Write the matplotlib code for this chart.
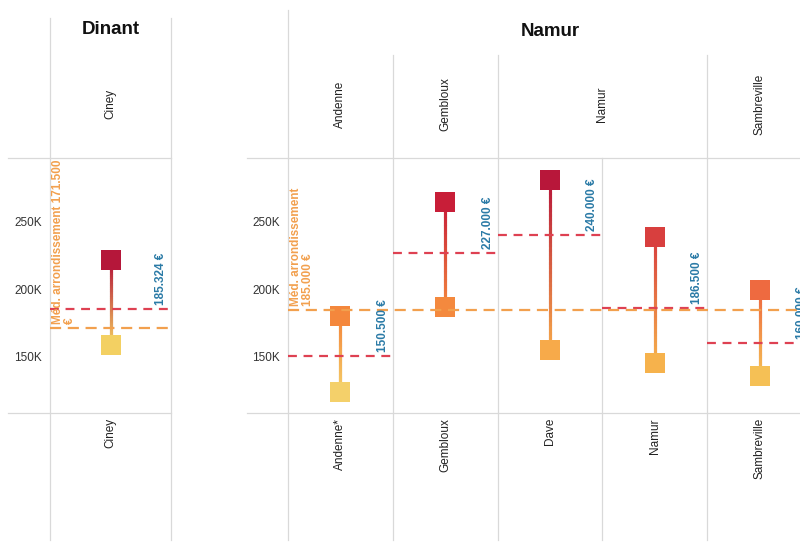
import matplotlib
matplotlib.use("Agg")
import matplotlib.pyplot as plt
import numpy as np
import matplotlib.transforms as mtransforms
from matplotlib.collections import LineCollection
from matplotlib.lines import Line2D
from matplotlib.colors import to_rgb

plt.rcParams['font.family'] = ['Liberation Sans', 'DejaVu Sans']

# ---------------- data ----------------
groups = ["Dinant", "Namur"]
dinant_communes = ["Ciney"]
namur_communes = ["Andenne*", "Gembloux", "Dave", "Namur", "Sambreville"]
dinant_sub_headers = ["Ciney"]
namur_sub_headers = ["Andenne", "Gembloux", "Namur", "Sambreville"]
namur_sub_spans = [1, 1, 2, 1]

dinant_max = [221900]
dinant_min = [159200]
dinant_median = [185324]
dinant_arr_median = 171500

namur_max = [180100, 264800, 281400, 238900, 199900]
namur_min = [124000, 186700, 154900, 145500, 135900]
namur_median = [150500, 227000, 240000, 186500, 160000]
namur_arr_median = 185000

y_ticks = [150000, 200000, 250000]
y_tick_labels = ["150K", "200K", "250K"]

# ---------------- styles ----------------
dinant_top_colors = ["#B5173A"]
dinant_bot_colors = ["#F3D062"]
namur_top_colors = ["#F4873C", "#C81E38", "#B8173A", "#D83F3E", "#EE6A40"]
namur_bot_colors = ["#F4D06A", "#F4893E", "#F7AA4A", "#F6B24C", "#F5C055"]
RED = "#DE4152"
ORANGE = "#F2A04E"
BLUE = "#2A7AA6"
GRID = "#D9D9D9"
NARROW = ['Liberation Sans Narrow', 'Liberation Sans', 'DejaVu Sans']

W, H = 800, 546
fig = plt.figure(figsize=(8, 5.46), dpi=100)


def fx(px):
    return px / W


def fy(py):
    return 1 - py / H


YLIM = (108500, 297400)
axL = fig.add_axes([fx(50), fy(413), fx(171) - fx(50), fy(158) - fy(413)])
axR = fig.add_axes([fx(288), fy(413), fx(812) - fx(288), fy(158) - fy(413)])


def fmt(v):
    return f"{v:,.0f}".replace(",", ".")


def draw_panel(ax, mins, maxs, meds, arr_med, top_cols, bot_cols, arr_label):
    n = len(mins)
    ax.set_xlim(-0.5, n - 0.5)
    ax.set_ylim(*YLIM)
    ax.set_frame_on(False)
    ax.set_xticks([])
    ax.set_yticks(y_ticks)
    ax.set_yticklabels(y_tick_labels)
    ax.tick_params(axis='y', length=0, pad=6, labelsize=8.5, labelcolor="#333333")
    for i in range(n):
        lo, hi = mins[i], maxs[i]
        c0 = np.array(to_rgb(bot_cols[i]))
        c1 = np.array(to_rgb(top_cols[i]))
        # solid base line, then colour gradient on top
        ax.plot([i, i], [lo, hi], color=tuple((c0 + c1) / 2), lw=2.2,
                solid_capstyle='butt', zorder=2)
        ys = np.linspace(lo, hi, 40)
        segs = [[(i, ys[k]), (i, ys[k + 1])] for k in range(len(ys) - 1)]
        t = np.linspace(0, 1, len(segs))[:, None]
        cols = c0 * (1 - t) + c1 * t
        ax.add_collection(LineCollection(segs, colors=cols, linewidths=2.2,
                                         capstyle='projecting', zorder=2.1))
        ax.plot([i], [hi], marker='s', ms=14, mew=0, color=top_cols[i], ls='none', zorder=3)
        ax.plot([i], [lo], marker='s', ms=14, mew=0, color=bot_cols[i], ls='none', zorder=3)
        ax.hlines(meds[i], i - 0.5, i + 0.5, colors=RED, linestyles=(0, (4, 3)),
                  lw=1.6, zorder=4, clip_on=False)
        ax.annotate(f"{fmt(meds[i])} €", xy=(i + 0.5, meds[i]), xytext=(-4, 4),
                    textcoords='offset pixels', rotation=90, ha='right', va='bottom',
                    color=BLUE, fontweight='bold', fontsize=8.5, family=NARROW,
                    annotation_clip=False, zorder=5)
    ax.axhline(arr_med, color=ORANGE, ls=(0, (5, 3)), lw=1.6, zorder=4)
    ax.annotate(arr_label, xy=(0, arr_med), xycoords=ax.get_yaxis_transform(),
                xytext=(2, 4), textcoords='offset pixels', rotation=90,
                ha='left', va='bottom', multialignment='left', linespacing=1.0,
                color=ORANGE, fontweight='bold', fontsize=8.5, family=NARROW, zorder=5)


draw_panel(axL, dinant_min, dinant_max, dinant_median, dinant_arr_median,
           dinant_top_colors, dinant_bot_colors,
           f"Méd. arrondissement {fmt(dinant_arr_median)}\n€")
draw_panel(axR, namur_min, namur_max, namur_median, namur_arr_median,
           namur_top_colors, namur_bot_colors,
           f"Méd. arrondissement\n{fmt(namur_arr_median)} €")


# ---------------- table lines ----------------
def vline(ax, xd, top_px, bot_px):
    tr = mtransforms.blended_transform_factory(ax.transData, fig.transFigure)
    fig.add_artist(Line2D([xd, xd], [fy(top_px), fy(bot_px)], transform=tr,
                          color=GRID, lw=0.9, zorder=0))


def hline(x0_px, x1_px, y_px):
    fig.add_artist(Line2D([fx(x0_px), fx(x1_px)], [fy(y_px), fy(y_px)],
                          transform=fig.transFigure, color=GRID, lw=0.9, zorder=0))


vline(axL, -0.5, 18, 540)
vline(axL, 0.5, 18, 540)
hline(8, 171, 158)
hline(8, 171, 413)

vline(axR, -0.5, 10, 540)
edges = list(np.cumsum(namur_sub_spans)[:-1] - 0.5)
for e in edges:
    vline(axR, e, 55, 540)
for k in range(1, len(namur_communes)):
    if (k - 0.5) not in edges:
        vline(axR, k - 0.5, 158, 540)
hline(247, 800, 158)
hline(247, 800, 413)

# ---------------- headers ----------------
trL = mtransforms.blended_transform_factory(axL.transData, fig.transFigure)
trR = mtransforms.blended_transform_factory(axR.transData, fig.transFigure)

fig.text(0.5, fy(30), groups[0],
         transform=mtransforms.blended_transform_factory(axL.transAxes, fig.transFigure),
         ha='center', va='center', fontsize=13.5, fontweight='bold', color='#111111')
fig.text(0.5, fy(31), groups[1],
         transform=mtransforms.blended_transform_factory(axR.transAxes, fig.transFigure),
         ha='center', va='center', fontsize=13.5, fontweight='bold', color='#111111')

for i, lab in enumerate(dinant_sub_headers):
    fig.text(i, fy(104), lab, transform=trL, rotation=90, ha='center', va='center',
             fontsize=8.5, color='#222222')
start = 0
for lab, sp in zip(namur_sub_headers, namur_sub_spans):
    xc = start + (sp - 1) / 2
    fig.text(xc, fy(104), lab, transform=trR, rotation=90, ha='center', va='center',
             fontsize=8.5, color='#222222')
    start += sp

for i, lab in enumerate(dinant_communes):
    fig.text(i, fy(418), lab, transform=trL, rotation=90, ha='center', va='top',
             fontsize=8.5, color='#222222')
for i, lab in enumerate(namur_communes):
    fig.text(i, fy(418), lab, transform=trR, rotation=90, ha='center', va='top',
             fontsize=8.5, color='#222222')

fig.savefig("out.png", dpi=100)
